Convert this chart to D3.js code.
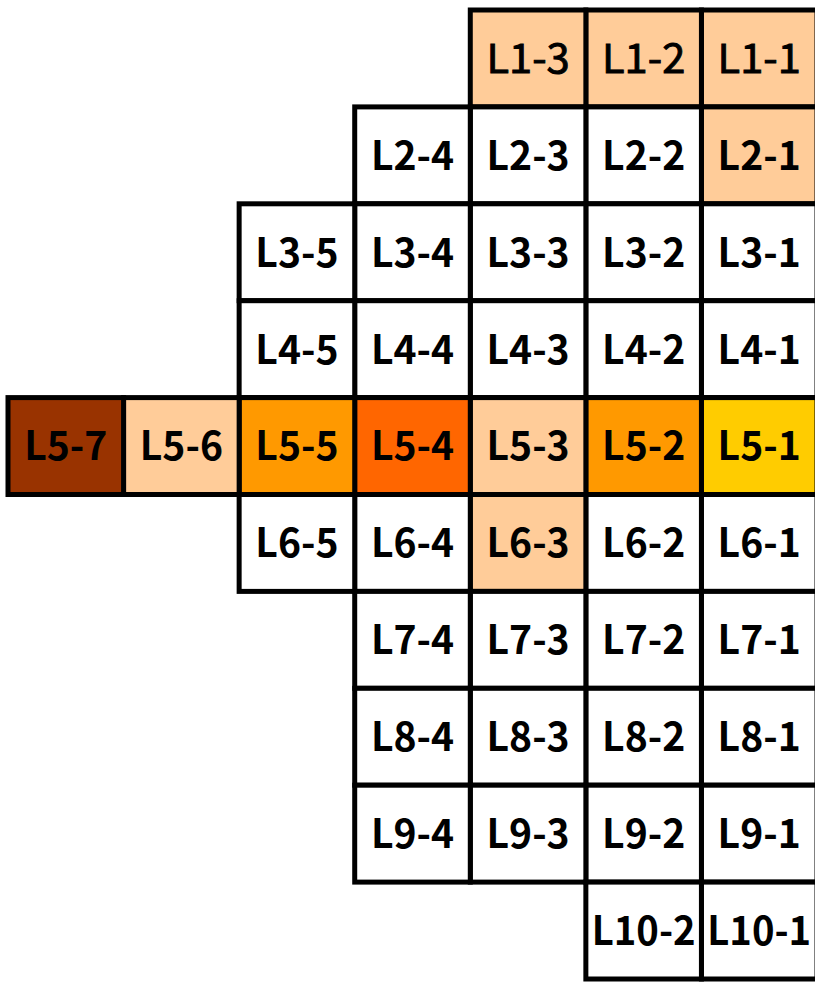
<!DOCTYPE html>
<html>
<head>
<meta charset="utf-8">
<script src="https://cdn.jsdelivr.net/npm/d3@7"></script>
<style>
  html, body { margin: 0; padding: 0; background: #ffffff; }
  svg { display: block; }
</style>
</head>
<body>
<svg id="chart" width="815" height="983"></svg>
<script>
// Rows (levels) and how many cells each row has (numbered from the right)
const rows = ["L1", "L2", "L3", "L4", "L5", "L6", "L7", "L8", "L9", "L10"];
const rowCounts = [3, 4, 5, 5, 7, 5, 4, 4, 4, 2];
const columns = [7, 6, 5, 4, 3, 2, 1];

// Highlighted cells and their category
const highlightCells = ["L1-1", "L1-2", "L1-3", "L2-1", "L5-1", "L5-2", "L5-3", "L5-4", "L5-5", "L5-6", "L5-7", "L6-3"];
const highlightLevels = ["light", "light", "light", "light", "yellow", "orange", "light", "deep", "orange", "light", "brown", "light"];

const levelNames = ["none", "light", "yellow", "orange", "deep", "brown"];
const levelColors = ["#FFFFFF", "#FFCC99", "#FFCC00", "#FF9900", "#FF6600", "#993300"];

const svg = d3.select("#chart");

const x = d3.scaleBand().domain(columns).range([8, 817]).paddingInner(0);
const y = d3.scaleBand().domain(rows).range([10, 979]).paddingInner(0);
const color = d3.scaleOrdinal().domain(levelNames).range(levelColors);

const levelOf = new Map(highlightCells.map((c, i) => [c, highlightLevels[i]]));

const cells = [];
rows.forEach((r, i) => {
  for (let c = 1; c <= rowCounts[i]; c++) {
    const id = `${r}-${c}`;
    cells.push({ row: r, col: c, id, level: levelOf.get(id) || "none", rowIndex: i });
  }
});

const g = svg.append("g");

g.selectAll("rect.cell")
  .data(cells)
  .enter().append("rect")
  .attr("class", "cell")
  .attr("x", d => x(d.col))
  .attr("y", d => y(d.row))
  .attr("width", x.bandwidth())
  .attr("height", y.bandwidth())
  .attr("fill", d => color(d.level))
  .attr("stroke", "#000")
  .attr("stroke-width", 5);

g.selectAll("text.lbl")
  .data(cells)
  .enter().append("text")
  .attr("class", "lbl")
  .attr("x", d => x(d.col) + x.bandwidth() / 2)
  .attr("y", d => y(d.row) + y.bandwidth() / 2)
  .attr("text-anchor", "middle")
  .attr("dy", "0.36em")
  .attr("font-family", "'Noto Sans CJK JP', 'Noto Sans', sans-serif")
  .attr("font-size", 40)
  .attr("font-weight", d => d.rowIndex === 0 ? 400 : 700)
  .attr("stroke", d => d.rowIndex === 0 ? "#000" : "none")
  .attr("stroke-width", d => d.rowIndex === 0 ? 0.9 : 0)
  .attr("fill", "#000")
  .attr("textLength", d => d.id.length * 20.8)
  .attr("lengthAdjust", "spacingAndGlyphs")
  .text(d => d.id);
</script>
</body>
</html>
